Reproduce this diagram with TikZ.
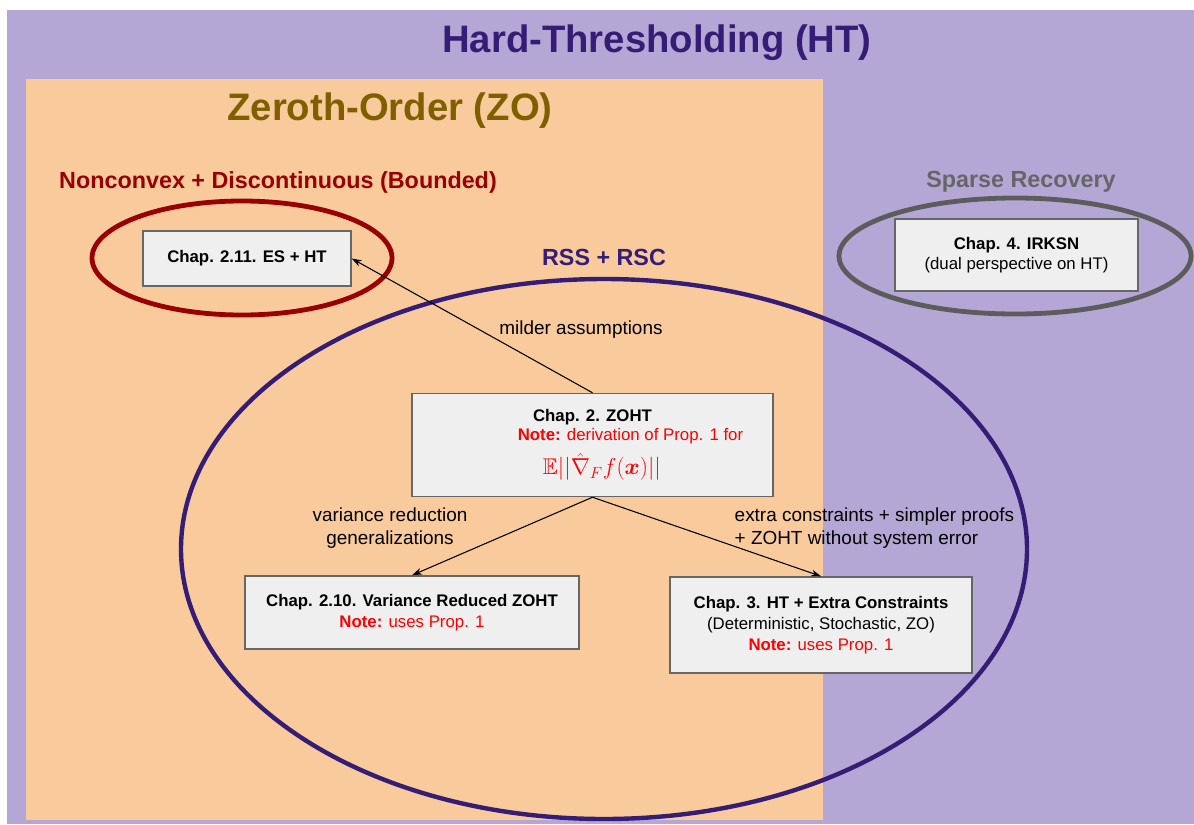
\documentclass[tikz,border=0pt]{standalone}
\usepackage{amsmath}
\usepackage{amssymb}
\usepackage{fontspec}
\setmainfont{Liberation Sans}
\usetikzlibrary{positioning, arrows.meta}

\definecolor{htpurple}{HTML}{B4A7D6}
\definecolor{zoorange}{HTML}{F9CB9C}
\definecolor{rsspurple}{HTML}{351C75}
\definecolor{zobrown}{HTML}{7F6000}
\definecolor{ncred}{HTML}{990000}
\definecolor{srgray}{HTML}{666666}
\definecolor{boxfill}{HTML}{EFEFEF}
\definecolor{notered}{HTML}{FF0000}

\newcommand{\notetext}[1]{{\color{notered}\textbf{Note:} #1}}

\tikzset{
    chapbox/.style={draw=srgray, line width=1.1pt, fill=boxfill, align=center,
        inner sep=0pt, font=\fontsize{12.6}{15.5}\selectfont},
    edgelabel/.style={font=\fontsize{14.2}{17.5}\selectfont},
    areatitle/.style={font=\bfseries\fontsize{17.5}{21}\selectfont},
    bigtitle/.style={font=\bfseries\fontsize{28.7}{34}\selectfont},
}

\begin{document}
\begin{tikzpicture}[x=0.75pt, y=-0.75pt, >={Stealth[length=7.5pt, width=5pt]}]
    \useasboundingbox (0,0) rectangle (1194,824);
    % background areas
    \fill[htpurple] (7,10) rectangle (1194,824);
    \fill[zoorange] (26,79) rectangle (823,820);
    \node[bigtitle, text=rsspurple] (httitle) at (657,43) {Hard-Thresholding (HT)};
    \node[bigtitle, text=zobrown] (zotitle) at (390,111) {Zeroth-Order (ZO)};

    % assumption classes
    \draw[ncred, line width=3.6pt] (242,258) ellipse [x radius=150, y radius=57];
    \draw[srgray!90!black, line width=3.6pt] (1015,256) ellipse [x radius=176, y radius=58];
    \draw[rsspurple, line width=3.3pt] (604,549) ellipse [x radius=423, y radius=270];
    \node[areatitle, text=ncred] (nctitle) at (278,182) {Nonconvex + Discontinuous (Bounded)};
    \node[areatitle, text=srgray] (srtitle) at (1021,182) {Sparse Recovery};
    \node[areatitle, text=rsspurple] (rsstitle) at (604,257) {RSS + RSC};

    % chapters
    \node[chapbox, minimum width=156pt, minimum height=41.25pt] (eshtbox) at (247,258.5)
        {\textbf{Chap. 2.11. ES + HT}};
    \node[chapbox, minimum width=182.25pt, minimum height=54pt] (irksnbox) at (1016.5,255)
        {\textbf{Chap. 4. IRKSN}\\(dual perspective on HT)};
    \node[chapbox, minimum width=270.75pt, minimum height=77.25pt] (zohtbox) at (592.5,445)
        {\textbf{Chap. 2. ZOHT}\\[-1.5pt]
         \hspace*{57pt}\notetext{derivation of Prop. 1 for}\\[6pt]
         \hspace*{14pt}{\color{notered}\fontsize{17}{20}\selectfont
         $\mathbb{E}||\hat{\nabla}_F f(\boldsymbol{x})||$}};
    \node[chapbox, minimum width=250.5pt, minimum height=54.75pt] (vrbox) at (412,612.5)
        {\textbf{Chap. 2.10. Variance Reduced ZOHT}\\\notetext{uses Prop. 1}};
    \node[chapbox, minimum width=226.5pt, minimum height=72pt] (extrabox) at (821,625)
        {\textbf{Chap. 3. HT + Extra Constraints}\\(Deterministic, Stochastic, ZO)\\\notetext{uses Prop. 1}};

    % relations
    \draw[->, line width=0.8pt] (zohtbox.north) -- (eshtbox.east);
    \draw[->, line width=0.8pt] (zohtbox.south) -- (vrbox.north);
    \draw[->, line width=0.8pt] (zohtbox.south) -- (extrabox.north);
    \node[edgelabel] (milderlabel) at (581,330) {milder assumptions};
    \node[edgelabel, align=center] (vrlabel) at (390,528) {variance reduction\\generalizations};
    \node[edgelabel, align=left, anchor=west] (extralabel) at (730,528)
        {extra constraints + simpler proofs\\+ ZOHT without system error};
\end{tikzpicture}
\end{document}
